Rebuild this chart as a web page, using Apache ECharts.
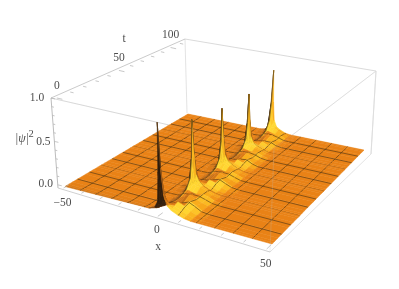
<!DOCTYPE html>
<html><head><meta charset="utf-8">
<style>html,body{margin:0;padding:0;background:#fff}#c{width:399px;height:289px}</style>
<script src="https://cdn.jsdelivr.net/npm/echarts@6/dist/echarts.min.js"></script>
</head><body><div id="c"></div>
<script>
var xNodes = [-50,-6,-3,-1.5,-0.7,0,0.7,1.5,3,5,8,11,14,18,50];
var tNodes = [0,1.2,3,5.9,10.6,16.5,22.4,26.6,28.3,29.5,30.7,32.5,35.4,40.1,46,51.9,56,57.8,59,60.2,62,64.9,69.6,75.5,81.4,85.6,87.3,88.5,89.7,91.5,94.4,99.1,105,110.9,115.1,116.8,118];
var heightRows = [
[0,.02,.05,.12,.45,1.0,.5,.22,.1,.06,.03,.01,0,0,0],
[0,.01,.03,.08,.28,.45,.3,.15,.09,.07,.04,.015,0,0,0],
[0,.005,.015,.04,.1,.18,.15,.1,.08,.08,.05,.02,.005,0,0],
[0,0,.005,.02,.04,.05,.05,.05,.07,.1,.07,.03,.005,0,0],
[0,0,0,.01,.02,.025,.025,.025,.025,.04,.08,.05,.01,0,0],
[0,0,0,.005,.01,.02,.02,.03,.05,.08,.05,.02,.005,0,0],
[0,0,.005,.01,.03,.05,.05,.05,.04,.03,.05,.04,.01,0,0],
[0,0,.01,.035,.09,.15,.12,.09,.08,.07,.05,.015,0,0,0],
[0,0,.015,.06,.22,.36,.24,.13,.09,.07,.04,.015,0,0,0],
[0,0,.015,.08,.34,.8,.4,.17,.1,.06,.03,.01,0,0,0],
[0,0,.01,.05,.2,.36,.24,.12,.08,.06,.03,.01,0,0,0],
[0,0,.005,.03,.08,.14,.12,.08,.06,.06,.04,.01,0,0,0],
[0,0,0,.015,.03,.04,.04,.04,.05,.08,.06,.02,.005,0,0],
[0,0,0,.005,.015,.02,.02,.02,.025,.04,.07,.04,.01,0,0],
[0,0,0,.005,.01,.02,.02,.03,.05,.07,.04,.015,0,0,0],
[0,0,.005,.01,.03,.05,.05,.05,.04,.03,.05,.03,.005,0,0],
[0,0,.01,.03,.08,.14,.11,.08,.08,.06,.04,.01,0,0,0],
[0,0,.015,.055,.2,.33,.22,.12,.09,.06,.03,.01,0,0,0],
[0,0,.015,.07,.3,.71,.36,.15,.09,.06,.025,.005,0,0,0],
[0,0,.01,.045,.18,.32,.21,.11,.08,.055,.025,.005,0,0,0],
[0,0,.005,.025,.07,.13,.11,.07,.06,.055,.03,.005,0,0,0],
[0,0,0,.01,.03,.04,.04,.04,.05,.07,.045,.01,0,0,0],
[0,0,0,.005,.015,.02,.02,.02,.025,.04,.055,.02,0,0,0],
[0,0,0,.005,.01,.02,.02,.03,.05,.065,.03,.005,0,0,0],
[0,0,.005,.01,.03,.05,.05,.05,.04,.03,.04,.015,0,0,0],
[0,0,.01,.03,.08,.14,.11,.08,.07,.05,.03,.005,0,0,0],
[0,0,.015,.055,.2,.33,.22,.12,.08,.05,.02,0,0,0,0],
[0,0,.015,.07,.3,.68,.36,.15,.08,.05,.02,0,0,0,0],
[0,0,.01,.045,.18,.33,.21,.11,.07,.05,.015,0,0,0,0],
[0,0,.005,.025,.07,.13,.11,.07,.05,.05,.02,0,0,0,0],
[0,0,0,.01,.03,.04,.04,.04,.05,.06,.03,.005,0,0,0],
[0,0,0,.005,.015,.02,.02,.02,.025,.035,.04,.01,0,0,0],
[0,0,0,.005,.01,.02,.02,.03,.05,.055,.02,0,0,0,0],
[0,0,.005,.01,.03,.055,.05,.05,.04,.03,.03,.005,0,0,0],
[0,0,.01,.03,.09,.16,.12,.08,.07,.05,.02,0,0,0,0],
[0,0,.015,.06,.22,.38,.24,.12,.07,.04,.01,0,0,0,0],
[0,0,.015,.08,.34,.79,.38,.15,.07,.04,.01,0,0,0,0]
];
var xTickValues = [-50,-40,-30,-20,-10,0,10,20,30,40,50];
var tTickValues = [0,10,20,30,40,50,60,70,80,90,100,110];
var zTickValues = [0,.1,.2,.3,.4,.5,.6,.7,.8,.9,1];
var xTickLabels = ['\u221250','0','50'];
var tTickLabels = ['0','50','100'];
var zTickLabels = ['0.0','0.5','1.0'];
var tMax = 118;

// camera: screen position of the surface corners (z=0), the plane z=1 and the box corners
var sfQuad = [[65,186.5],[272,244],[364,150],[188,114]];
var sfTopQuad = [[57,99],[274,149],[376,71],[185,39]];
var topQuad = [[51,98],[274,149],[376,71],[185,39]];
var botQuad = [[58,188],[270,252],[371,154],[187,113]];

function homography(q){
  var x0=q[0][0],y0=q[0][1],x1=q[1][0],y1=q[1][1],x2=q[2][0],y2=q[2][1],x3=q[3][0],y3=q[3][1];
  var dx1=x1-x2,dx2=x3-x2,sx=x0-x1+x2-x3,dy1=y1-y2,dy2=y3-y2,sy=y0-y1+y2-y3;
  var d=dx1*dy2-dx2*dy1,g=(sx*dy2-dx2*sy)/d,h=(dx1*sy-sx*dy1)/d;
  var a=x1-x0+g*x1,b=x3-x0+h*x3,c=x0,e=y1-y0+g*y1,f=y3-y0+h*y3,i=y0;
  return function(u,v){var w=g*u+h*v+1;return [(a*u+b*v+c)/w,(e*u+f*v+i)/w];};
}
var Hs=homography(sfQuad),Hst=homography(sfTopQuad),Ht=homography(topQuad),Hb=homography(botQuad);
function project(x,t,z){
  var u=(x+50)/100,v=t/tMax,p=Hs(u,v),q=Hst(u,v);
  return [p[0]+(q[0]-p[0])*z,p[1]+(q[1]-p[1])*z];
}
function boxPoint(x,t,f){
  var u=.02+.96*(x+50)/100,v=.012+.976*t/tMax,p=Hb(u,v),q=Ht(u,v);
  return [p[0]+(q[0]-p[0])*f,p[1]+(q[1]-p[1])*f];
}
var meshX=[],meshT=[];
for(var k=1;k<12;k++){meshX.push(-50+100*k/12);meshT.push(tMax*k/12);}

var ramp=[[-1,[30,20,10]],[.05,[60,36,16]],[.4,[140,80,26]],[.62,[205,115,22]],[.72,[236,132,22]],[.84,[250,175,28]],[1,[255,215,50]]];
function shadeColor(s){
  for(var i=1;i<ramp.length;i++){
    if(s<=ramp[i][0]){var a=ramp[i-1],b=ramp[i],f=(s-a[0])/(b[0]-a[0]);
      var c=a[1].map(function(v,j){return Math.round(v+(b[1][j]-v)*f);});
      return 'rgb('+c.join(',')+')';}
  }
  return 'rgb(255,215,50)';
}
var L=[.5,-.5,.71];
function cellShade(i,j){
  var r0=heightRows[j],r1=heightRows[j+1];
  var dzx=((r0[i+1]+r1[i+1])-(r0[i]+r1[i]))/2/(xNodes[i+1]-xNodes[i]);
  var dzt=((r1[i]+r1[i+1])-(r0[i]+r0[i+1]))/2/(tNodes[j+1]-tNodes[j]);
  var sx=40*dzx,st=40*dzt*100/tMax,n=Math.sqrt(sx*sx+st*st+1);
  var zAvg=(r0[i]+r0[i+1]+r1[i]+r1[i+1])/4;
  return (-sx*L[0]-st*L[1]+L[2])/n+Math.min(zAvg,.1)*1.5;
}
function bilerp(i,j,x,t){
  var fx=(x-xNodes[i])/(xNodes[i+1]-xNodes[i]),ft=(t-tNodes[j])/(tNodes[j+1]-tNodes[j]);
  var r0=heightRows[j],r1=heightRows[j+1];
  return (r0[i]*(1-fx)+r0[i+1]*fx)*(1-ft)+(r1[i]*(1-fx)+r1[i+1]*fx)*ft;
}
var cells=[];
for(var j=tNodes.length-2;j>=0;j--)for(var i=0;i<xNodes.length-1;i++)cells.push([i,j]);

function renderCell(params,api){
  var i=api.value(0),j=api.value(1);
  var x0=xNodes[i],x1=xNodes[i+1],t0=tNodes[j],t1=tNodes[j+1];
  function P(x,t,z){return api.coord(project(x,t,z));}
  var r0=heightRows[j],r1=heightRows[j+1];
  var col=shadeColor(cellShade(i,j));
  var kids=[{type:'polygon',shape:{points:[P(x0,t0,r0[i]),P(x1,t0,r0[i+1]),P(x1,t1,r1[i+1]),P(x0,t1,r1[i])]},
    style:{fill:col,stroke:col,lineWidth:.5}}];
  var ms={stroke:'rgba(72,50,20,.8)',lineWidth:.75,fill:null};
  meshX.forEach(function(m){ if(m>=x0&&m<x1){
    var a=P(m,t0,bilerp(i,j,m,t0)),b=P(m,t1,bilerp(i,j,m,t1));
    kids.push({type:'line',shape:{x1:a[0],y1:a[1],x2:b[0],y2:b[1]},style:ms});
  }});
  meshT.forEach(function(m){ if(m>=t0&&m<t1){
    var a=P(x0,m,bilerp(i,j,x0,m)),b=P(x1,m,bilerp(i,j,x1,m));
    kids.push({type:'line',shape:{x1:a[0],y1:a[1],x2:b[0],y2:b[1]},style:ms});
  }});
  return {type:'group',children:kids};
}
function seg(api,a,b,color,w){
  var p=api.coord(a),q=api.coord(b);
  return {type:'line',shape:{x1:p[0],y1:p[1],x2:q[0],y2:q[1]},style:{stroke:color,lineWidth:w||.8,fill:null}};
}
var A=botQuad[0],B=botQuad[1],C=botQuad[2],D=botQuad[3],At=topQuad[0],Bt=topQuad[1],Ct=topQuad[2],Dt=topQuad[3];
function renderBack(params,api){
  var c='#d0d0d0',kids=[seg(api,D,Dt,'#dcdcdc'),seg(api,Dt,Ct,c),seg(api,Ct,C,'#dcdcdc'),seg(api,At,Bt,c),seg(api,Bt,Ct,'#dcdcdc'),seg(api,At,Dt,'#bdbdbd')];
  return {type:'group',children:kids};
}
function renderFront(params,api){
  var kids=[seg(api,At,A,'#ababab'),seg(api,A,B,'#c4c4c4'),seg(api,B,C,'#dcdcdc'),seg(api,B,Bt,'rgba(190,190,190,.3)'),
    seg(api,At,Bt,'rgba(200,200,200,.15)'),seg(api,Bt,Ct,'rgba(200,200,200,.2)'),seg(api,Ct,C,'#dcdcdc')];
  xTickValues.forEach(function(x,idx){
    var a=boxPoint(x,0,0),maj=idx%5===0?.035:.02,b=boxPoint(x,tMax*maj,0);
    kids.push(seg(api,a,b,'#b0b0b0',.7));
  });
  tTickValues.forEach(function(t,idx){
    var a=boxPoint(-50,t,1),maj=idx%5===0?.025:.015,b=[a[0]-(At[0]-Bt[0])*maj,a[1]-(At[1]-Bt[1])*maj];
    kids.push(seg(api,a,b,'#b0b0b0',.7));
  });
  zTickValues.forEach(function(z,idx){
    var f=.035+.965*z,a=[A[0]+(At[0]-A[0])*f,A[1]+(At[1]-A[1])*f],maj=idx%5===0?.018:.01,b=[a[0]+(Bt[0]-At[0])*maj,a[1]+(Bt[1]-At[1])*maj];
    kids.push(seg(api,a,b,'#b0b0b0',.7));
  });
  return {type:'group',children:kids};
}
function label(api,pt,text,font){
  var p=api.coord(pt);
  return {type:'text',x:p[0],y:p[1],style:{text:text,fill:'#4d4d4d',font:font||'11.5px "Liberation Serif"',textAlign:'center',textVerticalAlign:'middle'}};
}
function renderLabels(params,api){
  var kids=[];
  [-50,0,50].forEach(function(x,i){var p=boxPoint(x,0,0);kids.push(label(api,[p[0]+[-1,-1,-1][i],p[1]+[15,14,15][i]],xTickLabels[i]));});
  [0,50,100].forEach(function(t,i){var p=boxPoint(-50,t,1);kids.push(label(api,[p[0],p[1]-12],tTickLabels[i]));});
  [0,.5,1].forEach(function(z,i){var f=.035+.965*z,x=A[0]+(At[0]-A[0])*f,y=A[1]+(At[1]-A[1])*f;kids.push(label(api,[x-[12,11,14][i],y+[-1,1,0][i]],zTickLabels[i]));});
  kids.push(label(api,[158,247],'x'),label(api,[124,39],'t'),label(api,[22,139],'|\u03c8|','italic 12px "Liberation Serif"'),label(api,[31,134],'2','10.5px "Liberation Serif"'));
  return {type:'group',children:kids};
}
var chart=echarts.init(document.getElementById('c'),null,{renderer:'canvas'});
chart.setOption({
  animation:false,backgroundColor:'#fff',
  grid:{left:0,right:0,top:0,bottom:0},
  xAxis:{type:'value',min:0,max:399,show:false},
  yAxis:{type:'value',min:0,max:289,inverse:true,show:false},
  series:[
    {type:'custom',name:'box back',renderItem:renderBack,data:[[0,0]],clip:false,silent:true,z:1},
    {type:'custom',name:'surface',renderItem:renderCell,data:cells,clip:false,silent:true,z:2,progressive:0},
    {type:'custom',name:'box front',renderItem:renderFront,data:[[0,0]],clip:false,silent:true,z:3},
    {type:'custom',name:'labels',renderItem:renderLabels,data:[[0,0]],clip:false,silent:true,z:4}
  ]
});
</script></body></html>
